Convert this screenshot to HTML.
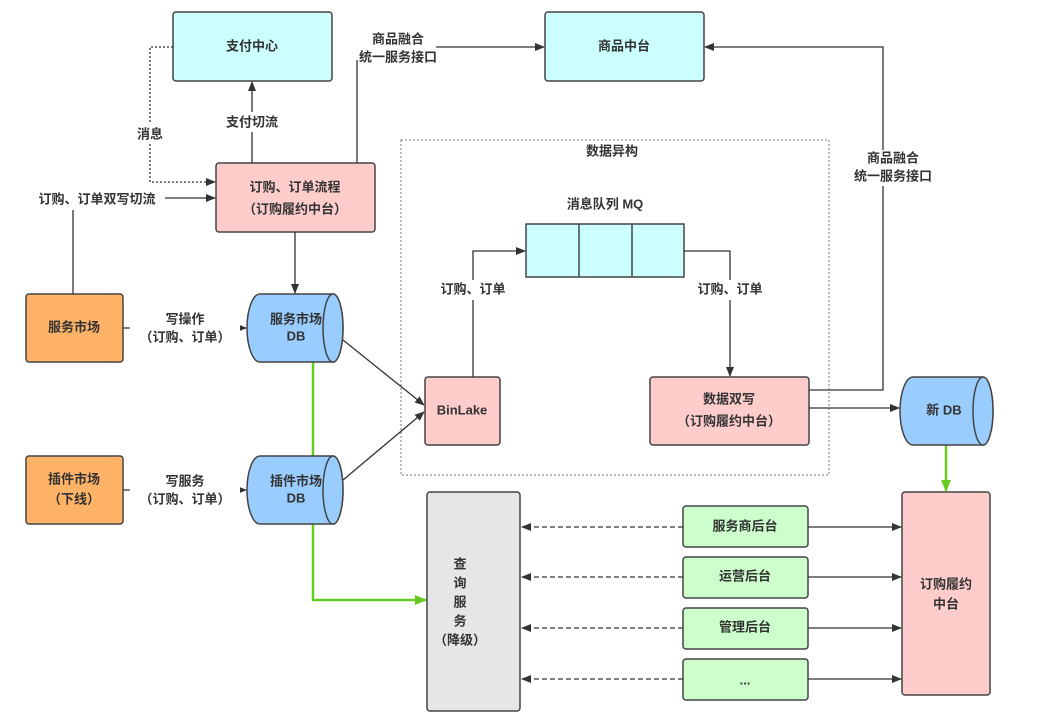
<!DOCTYPE html>
<html><head><meta charset="utf-8"><style>
body{margin:0;background:#fff}
text{font-family:"Liberation Sans","Noto Sans CJK SC",sans-serif;font-weight:bold;fill:#333;font-size:13px;text-anchor:middle;dominant-baseline:middle}
</style></head><body>
<svg width="1039" height="720" xmlns="http://www.w3.org/2000/svg">
<defs>
<marker id="a" markerWidth="10" markerHeight="8" refX="9" refY="4" orient="auto" markerUnits="userSpaceOnUse"><path d="M0,0L10,4L0,8z" fill="#333"/></marker>
<marker id="g" markerWidth="12" markerHeight="10" refX="11" refY="5" orient="auto" markerUnits="userSpaceOnUse"><path d="M0,0L12,5L0,10z" fill="#66cc22"/></marker>
</defs>
<g stroke="#66cc22" stroke-width="2.5" fill="none"><line x1="946" y1="445" x2="946" y2="491" marker-end="url(#g)"/><path d="M313,362V600H426" marker-end="url(#g)"/></g>
<g stroke="#444" stroke-width="1.5">
<rect x="401" y="140" width="428" height="335" fill="none" stroke="#777" stroke-width="1" stroke-dasharray="2,2"/>
<rect x="173" y="12" width="159" height="69" rx="3" fill="#ccffff"/>
<rect x="545" y="12" width="159" height="69" rx="3" fill="#ccffff"/>
<rect x="216" y="163" width="159" height="69" rx="3" fill="#ffcccc"/>
<rect x="26" y="294" width="97" height="68" rx="3" fill="#ffb366"/>
<rect x="26" y="456" width="97" height="68" rx="3" fill="#ffb366"/>
<rect x="425" y="377" width="75" height="68" rx="3" fill="#ffcccc"/>
<rect x="650" y="377" width="159" height="68" rx="3" fill="#ffcccc"/>
<rect x="526" y="224" width="158" height="53" fill="#ccffff"/>
<line x1="579" y1="224" x2="579" y2="277"/><line x1="632" y1="224" x2="632" y2="277"/>
<rect x="427" y="492" width="93" height="219" rx="3" fill="#e6e6e6"/>
<rect x="683" y="506" width="125" height="41" rx="3" fill="#ccffcc"/>
<rect x="683" y="557" width="125" height="41" rx="3" fill="#ccffcc"/>
<rect x="683" y="608" width="125" height="41" rx="3" fill="#ccffcc"/>
<rect x="683" y="659" width="125" height="41" rx="3" fill="#ccffcc"/>
<rect x="902" y="492" width="88" height="203" rx="3" fill="#ffcccc"/>
<path d="M260,294H333A10,34 0 0 1 333,362H260A13,34 0 0 1 260,294z" fill="#99ccff"/>
<ellipse cx="333" cy="328" rx="10" ry="34" fill="#99ccff"/>
<path d="M260,456H333A10,34 0 0 1 333,524H260A13,34 0 0 1 260,456z" fill="#99ccff"/>
<ellipse cx="333" cy="490" rx="10" ry="34" fill="#99ccff"/>
<path d="M913,377H983A10,34 0 0 1 983,445H913A13,34 0 0 1 913,377z" fill="#99ccff"/>
<ellipse cx="983" cy="411" rx="10" ry="34" fill="#99ccff"/>
</g>
<g stroke="#333" stroke-width="1.3" fill="none">
<line x1="252" y1="163" x2="252" y2="82" marker-end="url(#a)"/>
<path d="M173,47H150V182H215" stroke-dasharray="2,2" marker-end="url(#a)"/>
<line x1="165" y1="198" x2="215" y2="198" marker-end="url(#a)"/>
<line x1="73" y1="294" x2="73" y2="210"/>
<path d="M357,163V60"/><path d="M435,47H544" marker-end="url(#a)"/>
<line x1="295" y1="232" x2="295" y2="293" marker-end="url(#a)"/>
<line x1="123" y1="328" x2="246" y2="328" marker-end="url(#a)"/>
<line x1="123" y1="490" x2="246" y2="490" marker-end="url(#a)"/>
<line x1="343" y1="340" x2="424" y2="405" marker-end="url(#a)"/>
<line x1="343" y1="480" x2="424" y2="412" marker-end="url(#a)"/>
<path d="M473,377V251H525" marker-end="url(#a)"/>
<path d="M684,251H730V376" marker-end="url(#a)"/>
<line x1="809" y1="408" x2="899" y2="408" marker-end="url(#a)"/>
<path d="M809,390H883V47H705" marker-end="url(#a)"/>
<g stroke-dasharray="5,3"><line x1="683" y1="527" x2="522" y2="527" marker-end="url(#a)"/><line x1="683" y1="577" x2="522" y2="577" marker-end="url(#a)"/><line x1="683" y1="628" x2="522" y2="628" marker-end="url(#a)"/><line x1="683" y1="679" x2="522" y2="679" marker-end="url(#a)"/></g>
<line x1="808" y1="527" x2="901" y2="527" marker-end="url(#a)"/><line x1="808" y1="577" x2="901" y2="577" marker-end="url(#a)"/><line x1="808" y1="628" x2="901" y2="628" marker-end="url(#a)"/><line x1="808" y1="679" x2="901" y2="679" marker-end="url(#a)"/>
</g>
<rect x="360" y="30" width="76" height="36" fill="#fff"/>
<rect x="855" y="150" width="78" height="36" fill="#fff"/>
<rect x="222" y="112" width="60" height="20" fill="#fff"/>
<rect x="130" y="124" width="40" height="20" fill="#fff"/>
<rect x="130" y="310" width="110" height="40" fill="#fff"/>
<rect x="130" y="472" width="110" height="40" fill="#fff"/>
<rect x="434" y="280" width="80" height="20" fill="#fff"/>
<rect x="690" y="280" width="80" height="20" fill="#fff"/>
<text x="252" y="47" font-size="14">支付中心</text>
<text x="624" y="47" font-size="14">商品中台</text>
<text x="295" y="188" font-size="14">订购、订单流程</text>
<text x="295" y="210" font-size="14">（订购履约中台）</text>
<text x="74" y="328" font-size="14">服务市场</text>
<text x="74" y="480" font-size="14">插件市场</text><text x="74" y="500" font-size="14">（下线）</text>
<text x="296" y="320" font-size="13">服务市场</text><text x="296" y="337" font-size="13">DB</text>
<text x="296" y="482" font-size="13">插件市场</text><text x="296" y="499" font-size="13">DB</text>
<text x="944" y="411" font-size="13">新 DB</text>
<text x="462" y="411" font-size="14">BinLake</text>
<text x="729" y="400" font-size="14">数据双写</text><text x="729" y="422" font-size="14">（订购履约中台）</text>
<text x="612" y="152">数据异构</text>
<text x="605" y="205">消息队列 MQ</text>
<text x="398" y="40">商品融合</text><text x="398" y="58">统一服务接口</text>
<text x="893" y="159">商品融合</text><text x="893" y="177">统一服务接口</text>
<text x="252" y="123">支付切流</text>
<text x="150" y="135">消息</text>
<text x="97" y="200">订购、订单双写切流</text>
<text x="185" y="320">写操作</text><text x="185" y="338">（订购、订单）</text>
<text x="185" y="482">写服务</text><text x="185" y="500">（订购、订单）</text>
<text x="473" y="290">订购、订单</text>
<text x="730" y="290">订购、订单</text>
<text x="460" y="565" font-size="14">查</text><text x="460" y="584" font-size="14">询</text><text x="460" y="603" font-size="14">服</text><text x="460" y="622" font-size="14">务</text><text x="460" y="641" font-size="14">（降级）</text>
<text x="745" y="527">服务商后台</text><text x="745" y="577">运营后台</text><text x="745" y="628">管理后台</text><text x="745" y="681">...</text>
<text x="946" y="585" font-size="14">订购履约</text><text x="946" y="605" font-size="14">中台</text>
</svg>
</body></html>
